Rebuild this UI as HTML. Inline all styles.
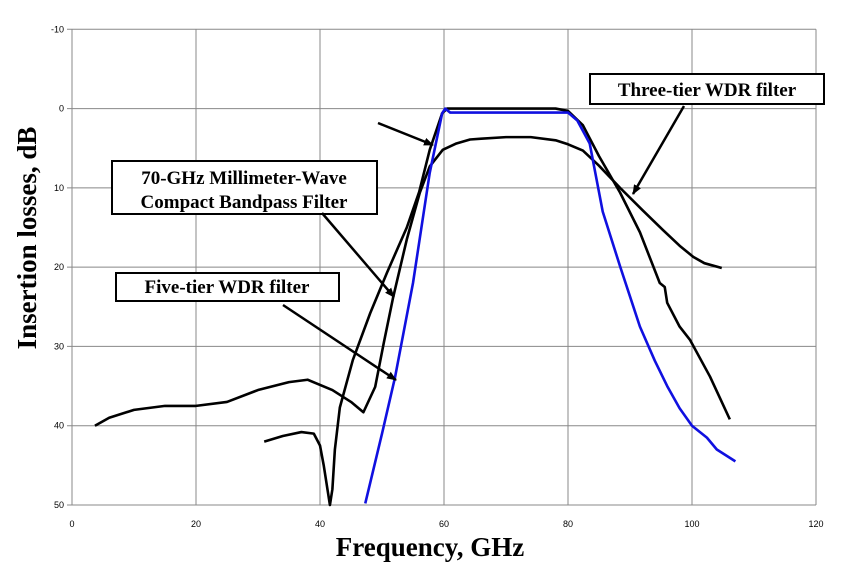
<!DOCTYPE html>
<html><head><meta charset="utf-8"><style>
body{margin:0;background:#fff;}
svg{display:block;font-family:"Liberation Sans",sans-serif;}
.t{font-family:"Liberation Serif",serif;font-weight:bold;}
</style></head><body>
<svg id="c" width="848" height="577" viewBox="0 0 848 577">
<g id="grid"></g><g id="ticks"></g><g id="series"></g>
<text class="t" x="430" y="556" font-size="27" text-anchor="middle">Frequency, GHz</text>
<text class="t" x="0" y="0" font-size="27" text-anchor="middle" transform="translate(36,238) rotate(-90)">Insertion losses, dB</text>
<g>
<rect x="112" y="161" width="265" height="53" fill="#fff" stroke="#000" stroke-width="2"/>
<text class="t" x="244" y="184" font-size="19" text-anchor="middle">70-GHz Millimeter-Wave</text>
<text class="t" x="244" y="208" font-size="19" text-anchor="middle">Compact Bandpass Filter</text>
</g>
<g>
<rect x="116" y="273" width="223" height="28" fill="#fff" stroke="#000" stroke-width="2"/>
<text class="t" x="227" y="293" font-size="19" text-anchor="middle">Five-tier WDR filter</text>
</g>
<g>
<rect x="590" y="74" width="234" height="30" fill="#fff" stroke="#000" stroke-width="2"/>
<text class="t" x="707" y="96" font-size="19" text-anchor="middle">Three-tier WDR filter</text>
</g>
<defs><marker id="ah" markerWidth="10" markerHeight="8" refX="9" refY="4" orient="auto" markerUnits="userSpaceOnUse"><path d="M0,0 L10,4 L0,8 z" fill="#000"/></marker></defs>
<g stroke="#000" stroke-width="2.5" marker-end="url(#ah)">
<line x1="378" y1="123" x2="433" y2="145"/>
<line x1="322" y1="213" x2="394" y2="297"/>
<line x1="283" y1="305" x2="396" y2="380"/>
<line x1="684" y1="106" x2="633" y2="194"/>
</g>
</svg>
<script>
const xTicks=[0,20,40,60,80,100,120];
const yTicks=[-10,0,10,20,30,40,50];
const threeTierF=[3.7,6,10,15,20,25,30,35,38,42,45,47,48.9,50.3,51.8,54,56.1,57.7,59.8,62,64.2,66,70,74,78,80,82.4,85,88.4,92,95.3,98,100.2,102,104.8];
const threeTierDb=[40,39,38,37.5,37.5,37,35.5,34.5,34.2,35.5,37,38.3,35.1,29.5,23.8,16.5,10.6,7.3,5.2,4.4,3.9,3.8,3.6,3.6,4,4.5,5.3,7.2,10,12.8,15.3,17.3,18.7,19.5,20.1];
const mmWaveF=[31,34,37,39,40,40.6,41.2,41.6,42,42.4,43.2,45.3,48.1,50.8,54,56,57.7,59.7,60.5,61,70,78,80,82.4,85,88.4,91.6,94.8,95.6,96,98,99.7,102.9,104.5,106.1];
const mmWaveDb=[42,41.3,40.8,41,42.5,45,48,50,48,43,37.7,31.7,25.8,20.7,15,10.5,5.2,0.6,0,0,0,0,0.3,2.1,6,10.6,15.6,22,22.5,24.5,27.5,29.2,33.8,36.5,39.2];
const fiveTierF=[47.3,50,52.1,55,57.7,59.7,60.2,61,70,80,81.5,83.5,85.6,88.4,91.6,94,96,98,100,102.4,104,107];
const fiveTierDb=[49.8,41,33.9,22,8.1,0.6,0,0.5,0.5,0.5,1.5,4.4,13,19.9,27.5,31.8,35,37.8,40,41.5,43,44.5];
const X0=72,X1=816,Y0=29.3,Y1=505;
const xs=f=>X0+(f-0)/120*(X1-X0);
const ys=d=>Y0+(d+10)/60*(Y1-Y0);
const NS="http://www.w3.org/2000/svg";
const G=document.getElementById('grid'),T=document.getElementById('ticks'),S=document.getElementById('series');
function mk(tag,at,p){const e=document.createElementNS(NS,tag);for(const k in at)e.setAttribute(k,at[k]);p.appendChild(e);return e;}
xTicks.forEach(v=>{const l=mk('line',{x1:xs(v),x2:xs(v),y1:Y0,y2:Y1,stroke:'#888','stroke-width':1},G);


const t=mk('text',{x:xs(v),y:Y1+22,'font-size':9,'text-anchor':'middle'},T);t.textContent=v;

});
yTicks.forEach(v=>{const l=mk('line',{x1:X0-5,x2:X1,y1:ys(v),y2:ys(v),stroke:'#888','stroke-width':1},G);


const t=mk('text',{x:X0-8,y:ys(v)+3,'font-size':9,'text-anchor':'end'},T);t.textContent=v;

});
function line(F,D,col,name){const p=mk('polyline',{points:F.map((f,i)=>xs(f)+','+ys(D[i])).join(' '),fill:'none',stroke:col,'stroke-width':2.6,'stroke-linejoin':'round'},S);

}
line(threeTierF,threeTierDb,'#000','three-tier-series');
line(mmWaveF,mmWaveDb,'#000','mm-wave-filter-series');
line(fiveTierF,fiveTierDb,'#1010e0','five-tier-series');
</script>
</body></html>
